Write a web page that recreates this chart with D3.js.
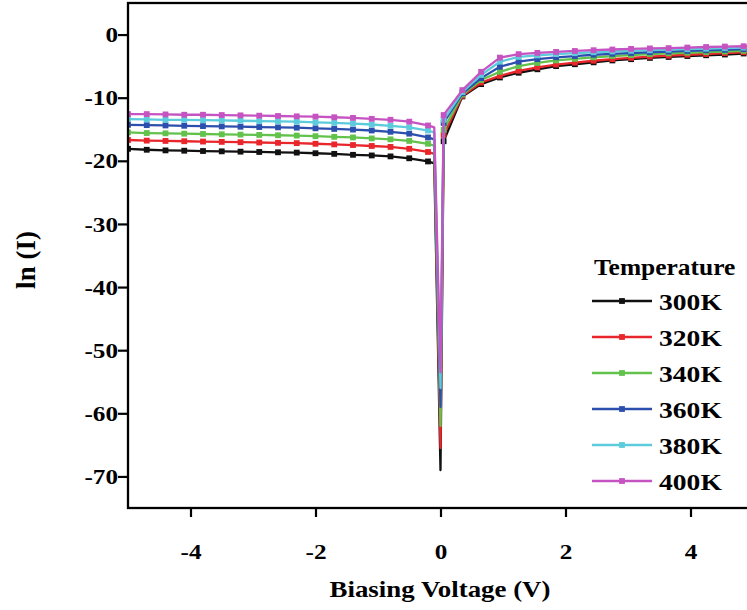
<!DOCTYPE html>
<html>
<head>
<meta charset="utf-8">
<script src="https://cdn.jsdelivr.net/npm/d3@7"></script>
<style>
  html, body { margin: 0; padding: 0; background: #fff; }
  svg { display: block; }
  text { font-family: "Liberation Serif", "Times New Roman", serif; font-weight: bold; fill: #000; }
</style>
</head>
<body>
<svg id="chart" width="747" height="610"></svg>
<script>
// Bias voltages (V): reverse branch, the two points through the dip at zero, forward branch
const vReverse = [-5.0, -4.7, -4.4, -4.1, -3.8, -3.5, -3.2, -2.9, -2.6, -2.3, -2.0, -1.7, -1.4, -1.1, -0.8, -0.5, -0.2];
const vDip = [-0.1, 0.0];
const vForward = [0.05, 0.35, 0.65, 0.95, 1.25, 1.55, 1.85, 2.15, 2.45, 2.75, 3.05, 3.35, 3.65, 3.95, 4.25, 4.55, 4.85, 5.15];

const temperatures = ["300K", "320K", "340K", "360K", "380K", "400K"];
const colors = ["#111111", "#e8262b", "#62c24c", "#2c4fae", "#5ccbdc", "#c653c2"];

// ln(I) on the reverse branch
const lnReverse = [
  [-18.1, -18.25, -18.35, -18.4, -18.45, -18.5, -18.55, -18.6, -18.65, -18.7, -18.8, -18.9, -19.05, -19.15, -19.3, -19.6, -20.1],
  [-16.7, -16.8, -16.85, -16.9, -16.95, -17.0, -17.05, -17.1, -17.15, -17.2, -17.3, -17.4, -17.5, -17.65, -17.8, -18.1, -18.6],
  [-15.5, -15.6, -15.65, -15.7, -15.75, -15.8, -15.85, -15.9, -15.95, -16.0, -16.1, -16.2, -16.3, -16.45, -16.6, -16.85, -17.3],
  [-14.3, -14.35, -14.4, -14.45, -14.5, -14.55, -14.6, -14.65, -14.7, -14.75, -14.85, -14.95, -15.05, -15.2, -15.4, -15.7, -16.3],
  [-13.4, -13.45, -13.5, -13.5, -13.55, -13.6, -13.65, -13.7, -13.75, -13.8, -13.9, -14.0, -14.1, -14.25, -14.45, -14.7, -15.2],
  [-12.6, -12.6, -12.65, -12.7, -12.7, -12.75, -12.8, -12.85, -12.9, -12.95, -13.0, -13.1, -13.2, -13.35, -13.5, -13.8, -14.4]
];
// ln(I) just before and at zero bias
const lnDip = [
  [-20.4, -69.0],
  [-18.9, -65.5],
  [-17.6, -62.0],
  [-16.6, -59.0],
  [-15.5, -56.0],
  [-14.7, -53.5]
];
// ln(I) on the forward branch
const lnForward = [
  [-16.9, -9.8, -7.85, -6.8, -6.05, -5.5, -5.0, -4.7, -4.4, -4.1, -3.9, -3.7, -3.55, -3.4, -3.28, -3.16, -3.0, -2.9],
  [-15.9, -9.7, -7.6, -6.55, -5.75, -5.2, -4.75, -4.45, -4.15, -3.9, -3.7, -3.5, -3.35, -3.2, -3.08, -2.95, -2.8, -2.7],
  [-15.1, -9.5, -7.2, -5.9, -5.0, -4.5, -4.1, -3.85, -3.6, -3.4, -3.25, -3.1, -2.98, -2.88, -2.78, -2.68, -2.58, -2.5],
  [-14.0, -9.3, -6.9, -5.1, -4.3, -3.9, -3.6, -3.4, -3.2, -3.05, -2.92, -2.8, -2.7, -2.6, -2.5, -2.42, -2.32, -2.25],
  [-13.5, -9.1, -6.4, -4.3, -3.55, -3.3, -3.1, -2.95, -2.8, -2.68, -2.57, -2.48, -2.4, -2.32, -2.24, -2.16, -2.06, -2.0],
  [-12.75, -8.8, -5.9, -3.65, -3.1, -2.9, -2.75, -2.6, -2.48, -2.37, -2.27, -2.2, -2.15, -2.06, -1.97, -1.9, -1.85, -1.8]
];

const xTicks = [-4, -2, 0, 2, 4];
const yTicks = [0, -10, -20, -30, -40, -50, -60, -70];

const svg = d3.select("#chart");
const plot = { left: 128, right: 753, top: 3, bottom: 508 };
const stretch = 1.2;
const mk = 5.8; // marker edge

const x = d3.scaleLinear().domain([-5, 5]).range([plot.left, plot.right]);
const y = d3.scaleLinear().domain([-75, 5]).range([plot.bottom, plot.top]);

svg.append("defs").append("clipPath").attr("id", "plotClip")
  .append("rect")
  .attr("x", plot.left).attr("y", plot.top)
  .attr("width", plot.right - plot.left).attr("height", plot.bottom - plot.top);

// Series
const series = temperatures.map((t, i) => {
  const pts = [];
  vReverse.forEach((v, j) => pts.push({ v, ln: lnReverse[i][j], mark: true }));
  vDip.forEach((v, j) => pts.push({ v, ln: lnDip[i][j], mark: false }));
  vForward.forEach((v, j) => pts.push({ v, ln: lnForward[i][j], mark: true }));
  return { name: t, color: colors[i], pts };
});

const line = d3.line().x(d => x(d.v)).y(d => y(d.ln));
const dataLayer = svg.append("g").attr("clip-path", "url(#plotClip)");

series.forEach(s => {
  const g = dataLayer.append("g");
  g.append("path")
    .attr("d", line(s.pts))
    .attr("fill", "none")
    .attr("stroke", s.color)
    .attr("stroke-width", 2.3)
    .attr("stroke-linejoin", "round");
  g.selectAll("rect")
    .data(s.pts.filter(d => d.mark))
    .join("rect")
    .attr("x", d => x(d.v) - mk / 2)
    .attr("y", d => y(d.ln) - mk / 2)
    .attr("width", mk)
    .attr("height", mk)
    .attr("fill", s.color);
});

// Frame
svg.append("rect")
  .attr("x", plot.left).attr("y", plot.top)
  .attr("width", plot.right - plot.left).attr("height", plot.bottom - plot.top)
  .attr("fill", "none").attr("stroke", "#000").attr("stroke-width", 2.3);

// Axes
const yAxis = svg.append("g")
  .attr("transform", `translate(${plot.left},0)`)
  .call(d3.axisLeft(y).tickValues(yTicks).tickSize(10).tickFormat(d3.format("d")));
const xAxis = svg.append("g")
  .attr("transform", `translate(0,${plot.bottom})`)
  .call(d3.axisBottom(x).tickValues(xTicks).tickSize(9).tickFormat(d3.format("d")));

[yAxis, xAxis].forEach(a => {
  a.select(".domain").remove();
  a.selectAll(".tick line").attr("stroke", "#000").attr("stroke-width", 2.2);
  a.selectAll(".tick text").attr("font-size", 21).attr("fill", "#000");
});
yAxis.selectAll(".tick text")
  .attr("x", null).attr("dy", "0.34em")
  .attr("text-anchor", "end")
  .attr("transform", `translate(-10,0) scale(${stretch},1)`)
  .text(d => d === 0 ? "0" : "-" + Math.abs(d));
xAxis.selectAll(".tick text")
  .attr("y", null).attr("dy", null)
  .attr("text-anchor", "middle")
  .attr("transform", `translate(0,51) scale(${stretch},1)`)
  .text(d => d === 0 ? "0" : (d < 0 ? "-" + Math.abs(d) : String(d)));

// Axis titles
svg.append("text")
  .attr("text-anchor", "middle")
  .attr("font-size", 24)
  .attr("transform", `translate(440,597) scale(1.12,1)`)
  .text("Biasing Voltage (V)");
svg.append("text")
  .attr("text-anchor", "middle")
  .attr("font-size", 27)
  .attr("transform", "translate(35,260) rotate(-90)")
  .text("ln (I)");

// Legend
const legend = svg.append("g").attr("transform", "translate(592,0)");
legend.append("text")
  .attr("font-size", 24)
  .attr("transform", `translate(2,275) scale(1.06,1)`)
  .text("Temperature");
const rowY = d3.scaleLinear().domain([0, 5]).range([301, 481]);
series.forEach((s, i) => {
  const cy = rowY(i);
  legend.append("line")
    .attr("x1", 0).attr("x2", 60).attr("y1", cy).attr("y2", cy)
    .attr("stroke", s.color).attr("stroke-width", 2.3);
  legend.append("rect")
    .attr("x", 30 - mk / 2).attr("y", cy - mk / 2).attr("width", mk).attr("height", mk)
    .attr("fill", s.color);
  legend.append("text")
    .attr("font-size", 23)
    .attr("transform", `translate(67,${cy + 8.5}) scale(${stretch},1)`)
    .text(s.name);
});
</script>
</body>
</html>
